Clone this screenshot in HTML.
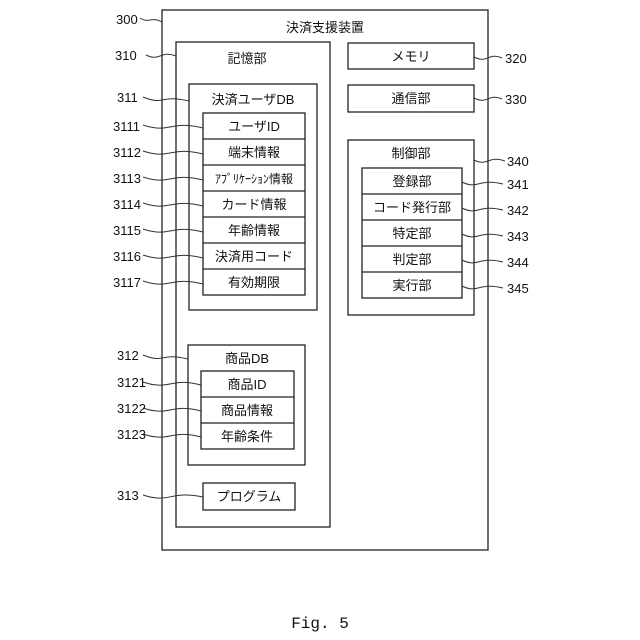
<!DOCTYPE html>
<html><head><meta charset="utf-8"><style>
html,body{margin:0;padding:0;background:#fff;}
svg{display:block;}
text{font-family:"Liberation Sans","Noto Sans CJK JP",sans-serif;font-size:13px;fill:#111;}
.n{font-size:13px;}
</style></head><body>
<svg width="640" height="640" viewBox="0 0 640 640" xmlns="http://www.w3.org/2000/svg">
<g fill="none" stroke="#222" stroke-width="1.3">
<rect x="162" y="10" width="326" height="540"/>
<rect x="176" y="42" width="154" height="485"/>
<rect x="189" y="84" width="128" height="226"/>
<rect x="203" y="113" width="102" height="182"/>
<line x1="203" y1="139" x2="305" y2="139"/><line x1="203" y1="165" x2="305" y2="165"/>
<line x1="203" y1="191" x2="305" y2="191"/><line x1="203" y1="217" x2="305" y2="217"/>
<line x1="203" y1="243" x2="305" y2="243"/><line x1="203" y1="269" x2="305" y2="269"/>
<rect x="188" y="345" width="117" height="120"/>
<rect x="201" y="371" width="93" height="78"/>
<line x1="201" y1="397" x2="294" y2="397"/><line x1="201" y1="423" x2="294" y2="423"/>
<rect x="203" y="483" width="92" height="27"/>
<rect x="348" y="43" width="126" height="26"/>
<rect x="348" y="85" width="126" height="27"/>
<rect x="348" y="140" width="126" height="175"/>
<rect x="362" y="168" width="100" height="130"/>
<line x1="362" y1="194" x2="462" y2="194"/><line x1="362" y1="220" x2="462" y2="220"/>
<line x1="362" y1="246" x2="462" y2="246"/><line x1="362" y1="272" x2="462" y2="272"/>
</g>
<g fill="none" stroke="#333" stroke-width="1">
<path d="M140 18 C150 24 150 16 162 22"/>
<path d="M146 55 C160 62 160 50 176 56"/>
<path d="M143 97 C165 106 160 94 189 101"/>
<path d="M143 125 C170 134 170 120 203 128"/>
<path d="M143 151 C170 160 170 146 203 154"/>
<path d="M143 177 C170 186 170 172 203 180"/>
<path d="M143 203 C170 212 170 198 203 206"/>
<path d="M143 229 C170 238 170 224 203 232"/>
<path d="M143 255 C170 264 170 250 203 258"/>
<path d="M143 281 C170 290 170 276 203 284"/>
<path d="M143 355 C165 364 160 352 188 359"/>
<path d="M143 382 C170 391 170 377 201 385"/>
<path d="M143 408 C170 417 170 403 201 411"/>
<path d="M143 434 C170 443 170 429 201 437"/>
<path d="M143 495 C170 504 170 490 203 497"/>
<path d="M474 57 C488 64 488 52 502 58"/>
<path d="M474 98 C488 105 488 93 502 99"/>
<path d="M474 160 C488 167 488 155 505 161"/>
<path d="M462 182 C478 190 478 178 503 184"/>
<path d="M462 208 C478 216 478 204 503 210"/>
<path d="M462 234 C478 242 478 230 503 236"/>
<path d="M462 260 C478 268 478 256 503 262"/>
<path d="M462 286 C478 294 478 282 503 288"/>
</g>
<g text-anchor="middle">
<text x="325" y="32">決済支援装置</text>
<text x="247" y="63">記憶部</text>
<text x="253" y="104">決済ユーザDB</text>
<text x="254" y="131">ユーザID</text>
<text x="254" y="157">端末情報</text>
<text x="254" y="183" style="font-size:12px">ｱﾌﾟﾘｹｰｼｮﾝ情報</text>
<text x="254" y="209">カード情報</text>
<text x="254" y="235">年齢情報</text>
<text x="254" y="261">決済用コード</text>
<text x="254" y="287">有効期限</text>
<text x="247" y="363">商品DB</text>
<text x="247" y="389">商品ID</text>
<text x="247" y="415">商品情報</text>
<text x="247" y="441">年齢条件</text>
<text x="249" y="501">プログラム</text>
<text x="411" y="61">メモリ</text>
<text x="411" y="103">通信部</text>
<text x="411" y="158">制御部</text>
<text x="412" y="186">登録部</text>
<text x="412" y="212">コード発行部</text>
<text x="412" y="238">特定部</text>
<text x="412" y="264">判定部</text>
<text x="412" y="290">実行部</text>
</g>
<g class="n">
<text x="116" y="24">300</text>
<text x="115" y="60">310</text>
<text x="117" y="102">311</text>
<text x="113" y="131">3111</text>
<text x="113" y="157">3112</text>
<text x="113" y="183">3113</text>
<text x="113" y="209">3114</text>
<text x="113" y="235">3115</text>
<text x="113" y="261">3116</text>
<text x="113" y="287">3117</text>
<text x="117" y="360">312</text>
<text x="117" y="387">3121</text>
<text x="117" y="413">3122</text>
<text x="117" y="439">3123</text>
<text x="117" y="500">313</text>
<text x="505" y="63">320</text>
<text x="505" y="104">330</text>
<text x="507" y="166">340</text>
<text x="507" y="189">341</text>
<text x="507" y="215">342</text>
<text x="507" y="241">343</text>
<text x="507" y="267">344</text>
<text x="507" y="293">345</text>
</g>
<text x="320" y="628" text-anchor="middle" style="font-family:'Liberation Mono',monospace;font-size:16px">Fig. 5</text>
</svg>
</body></html>
